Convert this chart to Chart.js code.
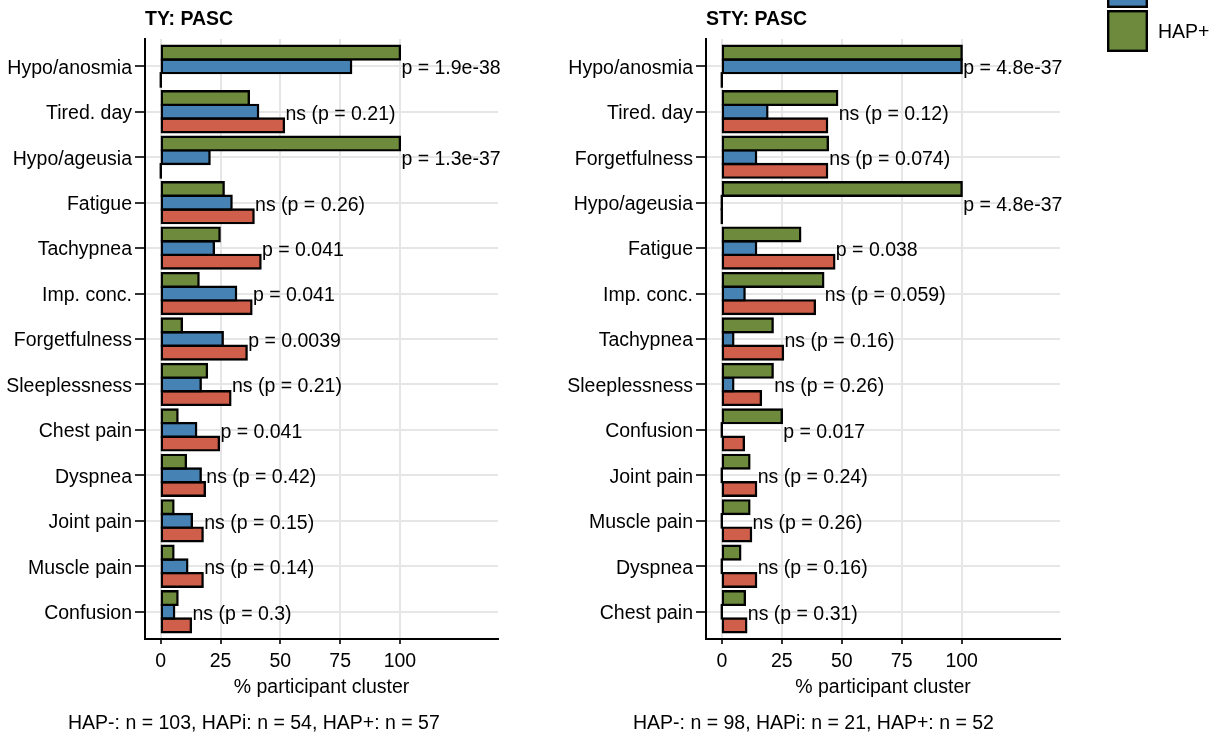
<!DOCTYPE html>
<html>
<head>
<meta charset="utf-8">
<title>PASC symptoms by HAP cluster</title>
<script src="https://cdn.jsdelivr.net/npm/chart.js@4/dist/chart.umd.min.js"></script>
<style>
  html, body { margin: 0; padding: 0; background: #ffffff; width: 1217px; height: 736px; overflow: hidden; }
  .panel { position: absolute; top: 0; height: 736px; }
  #panelTY { left: 0; width: 540px; }
  #panelSTY { left: 540px; width: 677px; }
  canvas { display: block; }
</style>
</head>
<body>
<div class="panel" id="panelTY"><canvas id="chartTY" width="540" height="736"></canvas></div>
<div class="panel" id="panelSTY"><canvas id="chartSTY" width="677" height="736"></canvas></div>
<script>
// ---- data: % of participants in each cluster reporting each symptom ----
const seriesNames = ['HAP+', 'HAPi', 'HAP-'];
const seriesColors = ['#6E8B3D', '#4682B4', '#CF5E4A'];
const xTicks = [0, 25, 50, 75, 100];

// TY panel
const tyCategories = ['Hypo/anosmia', 'Tired. day', 'Hypo/ageusia', 'Fatigue', 'Tachypnea', 'Imp. conc.',
  'Forgetfulness', 'Sleeplessness', 'Chest pain', 'Dyspnea', 'Joint pain', 'Muscle pain', 'Confusion'];
const tyHapPos = [100, 36.8, 100, 26.3, 24.6, 15.8, 8.8, 19.3, 7.0, 10.5, 5.3, 5.3, 7.0];
const tyHapI   = [79.6, 40.7, 20.4, 29.6, 22.2, 31.5, 25.9, 16.7, 14.8, 16.7, 13.0, 11.1, 5.6];
const tyHapNeg = [0, 51.5, 0, 38.8, 41.7, 37.9, 35.9, 29.1, 24.3, 18.4, 17.5, 17.5, 12.6];
const tyPLabels = ['p = 1.9e-38', 'ns (p = 0.21)', 'p = 1.3e-37', 'ns (p = 0.26)', 'p = 0.041', 'p = 0.041',
  'p = 0.0039', 'ns (p = 0.21)', 'p = 0.041', 'ns (p = 0.42)', 'ns (p = 0.15)', 'ns (p = 0.14)', 'ns (p = 0.3)'];
const tyTitle = 'TY: PASC';
const tyCaption = 'HAP-: n = 103, HAPi: n = 54, HAP+: n = 57';

// STY panel
const styCategories = ['Hypo/anosmia', 'Tired. day', 'Forgetfulness', 'Hypo/ageusia', 'Fatigue', 'Imp. conc.',
  'Tachypnea', 'Sleeplessness', 'Confusion', 'Joint pain', 'Muscle pain', 'Dyspnea', 'Chest pain'];
const styHapPos = [100, 48.1, 44.2, 100, 32.7, 42.3, 21.2, 21.2, 25.0, 11.5, 11.5, 7.7, 9.6];
const styHapI   = [100, 19.0, 14.3, 0, 14.3, 9.5, 4.8, 4.8, 0, 0, 0, 0, 0];
const styHapNeg = [0, 43.9, 43.9, 0, 46.9, 38.8, 25.5, 16.3, 9.2, 14.3, 12.2, 14.3, 10.2];
const styPLabels = ['p = 4.8e-37', 'ns (p = 0.12)', 'ns (p = 0.074)', 'p = 4.8e-37', 'p = 0.038', 'ns (p = 0.059)',
  'ns (p = 0.16)', 'ns (p = 0.26)', 'p = 0.017', 'ns (p = 0.24)', 'ns (p = 0.26)', 'ns (p = 0.16)', 'ns (p = 0.31)'];
const styTitle = 'STY: PASC';
const styCaption = 'HAP-: n = 98, HAPi: n = 21, HAP+: n = 52';

// ---- styling ----
const FONT = "'Liberation Sans', Arial, Helvetica, sans-serif";
const FS = 19.5;
Chart.defaults.font.family = FONT;
Chart.defaults.font.size = FS;
Chart.defaults.color = '#000';

// Titles, captions, p-value labels, zero-length bar outlines and the key
const panelDecor = {
  id: 'panelDecor',
  afterDatasetsDraw(chart, args, opts) {
    const ctx = chart.ctx;
    const xs = chart.scales.x, ys = chart.scales.y;
    // zero-valued bars still get their outline, drawn as a line at 0
    chart.data.datasets.forEach((ds, di) => {
      const meta = chart.getDatasetMeta(di);
      meta.data.forEach((el, i) => {
        if (ds.data[i].x !== 0) return;
        const p = el.getProps(['x', 'y', 'height'], true);
        ctx.save();
        ctx.strokeStyle = '#000';
        ctx.lineWidth = 2.4;
        ctx.beginPath();
        ctx.moveTo(p.x, p.y - p.height / 2 - 1);
        ctx.lineTo(p.x, p.y + p.height / 2 + 1);
        ctx.stroke();
        ctx.restore();
      });
    });
    // p-value labels, left-aligned at the longest bar of each symptom
    ctx.save();
    ctx.font = FS + 'px ' + FONT;
    ctx.fillStyle = '#000';
    ctx.textAlign = 'left';
    ctx.textBaseline = 'middle';
    opts.pLabels.forEach((txt, i) => {
      const maxVal = Math.max(...chart.data.datasets.map(d => d.data[i].x));
      ctx.fillText(txt, xs.getPixelForValue(maxVal) + 1.5, ys.getPixelForValue(i) + 2.5);
    });
    ctx.restore();
  },
  afterDraw(chart, args, opts) {
    const ctx = chart.ctx;
    const area = chart.chartArea;
    ctx.save();
    ctx.fillStyle = '#000';
    ctx.textBaseline = 'alphabetic';
    ctx.textAlign = 'left';
    ctx.font = 'bold ' + FS + 'px ' + FONT;
    ctx.fillText(opts.title, area.left, 25);
    ctx.font = FS + 'px ' + FONT;
    ctx.fillText(opts.caption, opts.captionX, 729);
    if (opts.key) {
      // key stacked downward: HAP-, HAPi, HAP+
      const order = chart.data.datasets.slice().reverse();
      const kx = opts.key.x, kw = 41, kh = 42, gap = 2;
      order.forEach((ds, k) => {
        const top = opts.key.bottom - (order.length - k) * (kh + gap) + gap;
        ctx.fillStyle = ds.backgroundColor;
        ctx.fillRect(kx, top, kw, kh);
        ctx.strokeStyle = '#000';
        ctx.lineWidth = 2.4;
        ctx.strokeRect(kx + 1.2, top + 1.2, kw - 2.4, kh - 2.4);
        ctx.fillStyle = '#000';
        ctx.textBaseline = 'middle';
        ctx.fillText(ds.label, kx + kw + 10, top + kh / 2 + 2);
      });
    }
    ctx.restore();
  }
};

function buildChart(canvasId, cfg) {
  const values = [cfg.hapPos, cfg.hapI, cfg.hapNeg];
  const datasets = values.map((arr, s) => ({
    label: seriesNames[s],
    data: arr.map((v, i) => ({ x: v, y: i })),
    backgroundColor: seriesColors[s],
    borderColor: '#000',
    borderWidth: 2.4,
    borderSkipped: false,
    inflateAmount: 1.2,
    categoryPercentage: 0.9,
    barPercentage: 1.0
  }));
  const cats = cfg.categories;
  return new Chart(document.getElementById(canvasId), {
    type: 'bar',
    data: { datasets },
    plugins: [panelDecor],
    options: {
      indexAxis: 'y',
      responsive: false,
      animation: false,
      events: [],
      layout: { padding: { top: 39, right: cfg.rightPad, bottom: 0, left: 0 } },
      scales: {
        y: {
          type: 'linear',
          reverse: true,
          offset: false,
          min: -0.6,
          max: 12.6,
          afterBuildTicks: s => { s.ticks = cats.map((_, i) => ({ value: i })); },
          afterFit: s => { s.width = cfg.yAxisWidth; },
          ticks: { callback: v => cats[v], color: '#000', padding: 3, labelOffset: 2, autoSkip: false, font: { size: FS } },
          grid: { offset: false, color: '#e6e6e6', lineWidth: 2, tickColor: '#333', tickLength: 10, tickWidth: 2 },
          border: { color: '#000', width: 2 }
        },
        x: {
          type: 'linear',
          min: -6.6,
          max: 141,
          afterBuildTicks: s => { s.ticks = xTicks.map(v => ({ value: v })); },
          afterFit: s => { s.height = 97; },
          ticks: { color: '#000', padding: 6, autoSkip: false, maxRotation: 0, font: { size: FS } },
          grid: { color: '#e6e6e6', lineWidth: 2, tickColor: '#333', tickLength: 5, tickWidth: 2 },
          border: { color: '#000', width: 2 },
          title: { display: true, text: '% participant cluster', color: '#000', font: { size: FS }, padding: { top: 0, bottom: 36.5 } }
        }
      },
      plugins: {
        legend: { display: false },
        tooltip: { enabled: false },
        panelDecor: { title: cfg.title, caption: cfg.caption, captionX: cfg.captionX, pLabels: cfg.pLabels, key: cfg.key }
      }
    }
  });
}

buildChart('chartTY', {
  categories: tyCategories, hapPos: tyHapPos, hapI: tyHapI, hapNeg: tyHapNeg, pLabels: tyPLabels,
  title: tyTitle, caption: tyCaption, captionX: 68, yAxisWidth: 145, rightPad: 42, key: null
});
buildChart('chartSTY', {
  categories: styCategories, hapPos: styHapPos, hapI: styHapI, hapNeg: styHapNeg, pLabels: styPLabels,
  title: styTitle, caption: styCaption, captionX: 93, yAxisWidth: 166, rightPad: 157, key: { x: 567, bottom: 52 }
});
</script>
</body>
</html>
